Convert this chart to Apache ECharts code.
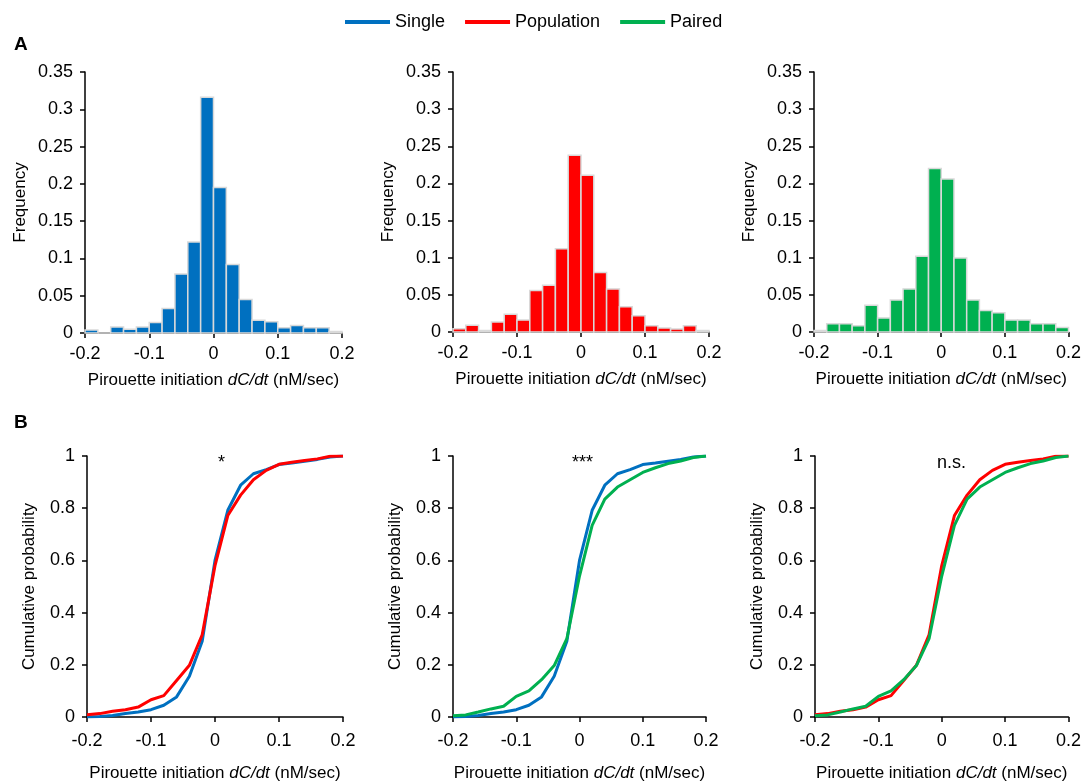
<!DOCTYPE html>
<html>
<head>
<meta charset="utf-8">
<script src="https://cdn.jsdelivr.net/npm/echarts@6/dist/echarts.min.js"></script>
<style>
  html, body { margin: 0; padding: 0; background: #fff; }
  #chart { width: 1084px; height: 783px; }
</style>
</head>
<body>
<div id="chart"></div>
<script>
// histogram bins (0.02 wide)
const binStarts = [-0.2, -0.18, -0.16, -0.14, -0.12, -0.1, -0.08, -0.06, -0.04, -0.02,
                   0, 0.02, 0.04, 0.06, 0.08, 0.1, 0.12, 0.14, 0.16, 0.18];
const binWidth = 0.02;
const histSingle = [0.004, 0, 0.008, 0.005, 0.008, 0.014, 0.033, 0.079, 0.122, 0.316,
                    0.195, 0.092, 0.045, 0.017, 0.015, 0.007, 0.010, 0.007, 0.007, 0.002];
const histPopulation = [0.0045, 0.009, 0.002, 0.0135, 0.024, 0.016, 0.056, 0.063, 0.112, 0.238,
                        0.211, 0.080, 0.058, 0.034, 0.022, 0.0085, 0.0054, 0.004, 0.0085, 0.002];
const histPaired = [0.002, 0.011, 0.011, 0.0085, 0.036, 0.019, 0.043, 0.058, 0.102, 0.220,
                    0.206, 0.0995, 0.043, 0.029, 0.026, 0.016, 0.016, 0.011, 0.011, 0.006];

// cumulative curves
const cdfX = [-0.2, -0.18, -0.16, -0.14, -0.12, -0.1, -0.08, -0.06, -0.04, -0.02, 0,
              0.02, 0.04, 0.06, 0.08, 0.1, 0.12, 0.14, 0.16, 0.18, 0.2];
const cdfSingle = [0, 0.002, 0.006, 0.013, 0.019, 0.028, 0.045, 0.077, 0.156, 0.29, 0.6,
                   0.792, 0.888, 0.932, 0.948, 0.967, 0.973, 0.98, 0.987, 0.996, 1];
const cdfPopulation = [0.009, 0.013, 0.022, 0.028, 0.038, 0.066, 0.082, 0.14, 0.198, 0.315, 0.58,
                       0.772, 0.85, 0.909, 0.945, 0.968, 0.976, 0.983, 0.989, 0.999, 1];
const cdfPaired = [0.005, 0.008, 0.019, 0.031, 0.041, 0.079, 0.10, 0.143, 0.197, 0.30, 0.54,
                   0.734, 0.835, 0.881, 0.909, 0.937, 0.955, 0.971, 0.981, 0.994, 1];

const freqTicks = { min: 0, max: 0.35, interval: 0.05 };
const probTicks = { min: 0, max: 1, interval: 0.2 };
const xTicks = { min: -0.2, max: 0.2, interval: 0.1 };

const C = { Single: '#0070C0', Population: '#FF0000', Paired: '#00B050' };
const FONT = 'Liberation Sans, Arial, sans-serif';

const grids = [
  { left: 85, top: 72, width: 257, height: 261 },
  { left: 453, top: 72, width: 256, height: 260 },
  { left: 814, top: 72, width: 255, height: 260 },
  { left: 87, top: 456, width: 256, height: 261 },
  { left: 453, top: 456, width: 253, height: 261 },
  { left: 815, top: 456, width: 255, height: 261 }
];

const axisCommon = {
  type: 'value',
  axisLine: { show: true, onZero: false, lineStyle: { color: '#000', width: 1.5 } },
  axisTick: { show: true, length: 5, lineStyle: { color: '#000', width: 1.5 } },
  splitLine: { show: false },
  axisLabel: { color: '#000', fontSize: 18, fontFamily: FONT },
  nameTextStyle: { color: '#000', fontSize: 17, fontFamily: FONT }
};

const xName = 'Pirouette initiation {i|dC/dt} (nM/sec)';
const xNameStyle = {
  color: '#000', fontSize: 17, fontFamily: FONT,
  rich: { i: { fontStyle: 'italic', fontSize: 17, fontFamily: FONT, color: '#000' } }
};

const xAxes = grids.map((g, i) => Object.assign({}, axisCommon, xTicks, {
  gridIndex: i,
  name: xName,
  nameLocation: 'middle',
  nameGap: i < 3 ? 39 : 48,
  nameTextStyle: xNameStyle,
  axisLabel: Object.assign({}, axisCommon.axisLabel, { margin: i < 3 ? 12 : 15 })
}));

const yAxes = grids.map((g, i) => Object.assign({}, axisCommon, i < 3 ? freqTicks : probTicks, {
  gridIndex: i,
  name: i < 3 ? 'Frequency' : 'Cumulative probability',
  nameLocation: 'middle',
  nameGap: i < 3 ? 56 : 49,
  axisLabel: Object.assign({}, axisCommon.axisLabel, { margin: 12 })
}));

function histSeries(name, values, idx) {
  return {
    type: 'custom',
    name: name,
    xAxisIndex: idx,
    yAxisIndex: idx,
    itemStyle: { color: C[name] },
    encode: { x: [0, 1], y: 2 },
    data: binStarts.map((b, k) => [b, b + binWidth, values[k]]),
    renderItem: function (params, api) {
      const p0 = api.coord([api.value(0), 0]);
      const p1 = api.coord([api.value(1), api.value(2)]);
      return {
        type: 'rect',
        shape: { x: p0[0], y: p1[1], width: p1[0] - p0[0], height: p0[1] - p1[1] },
        style: { fill: C[name], stroke: '#d9d9d9', lineWidth: 1.5 }
      };
    }
  };
}

function cdfSeries(name, values, idx) {
  return {
    type: 'line',
    name: name,
    xAxisIndex: idx,
    yAxisIndex: idx,
    showSymbol: false,
    symbol: 'none',
    itemStyle: { color: C[name] },
    lineStyle: { color: C[name], width: 3 },
    data: cdfX.map((x, k) => [x, values[k]])
  };
}

const chart = echarts.init(document.getElementById('chart'));
chart.setOption({
  animation: false,
  backgroundColor: '#fff',
  legend: {
    top: 8,
    left: 340,
    itemWidth: 45,
    itemHeight: 4,
    itemGap: 20,
    icon: 'rect',
    data: ['Single', 'Population', 'Paired'],
    textStyle: { color: '#000', fontSize: 18, fontFamily: FONT }
  },
  grid: grids,
  xAxis: xAxes,
  yAxis: yAxes,
  series: [
    histSeries('Single', histSingle, 0),
    histSeries('Population', histPopulation, 1),
    histSeries('Paired', histPaired, 2),
    cdfSeries('Single', cdfSingle, 3),
    cdfSeries('Population', cdfPopulation, 3),
    cdfSeries('Single', cdfSingle, 4),
    cdfSeries('Paired', cdfPaired, 4),
    cdfSeries('Population', cdfPopulation, 5),
    cdfSeries('Paired', cdfPaired, 5)
  ],
  graphic: [
    { type: 'text', left: 14, top: 35, style: { text: 'A', fontSize: 19, fontWeight: 'bold', fontFamily: FONT, fill: '#000' } },
    { type: 'text', left: 14, top: 413, style: { text: 'B', fontSize: 19, fontWeight: 'bold', fontFamily: FONT, fill: '#000' } },
    { type: 'text', left: 218, top: 454, style: { text: '*', fontSize: 18, fontFamily: FONT, fill: '#000' } },
    { type: 'text', left: 572, top: 454, style: { text: '***', fontSize: 18, fontFamily: FONT, fill: '#000' } },
    { type: 'text', left: 937, top: 454, style: { text: 'n.s.', fontSize: 18, fontFamily: FONT, fill: '#000' } }
  ]
});
</script>
</body>
</html>
